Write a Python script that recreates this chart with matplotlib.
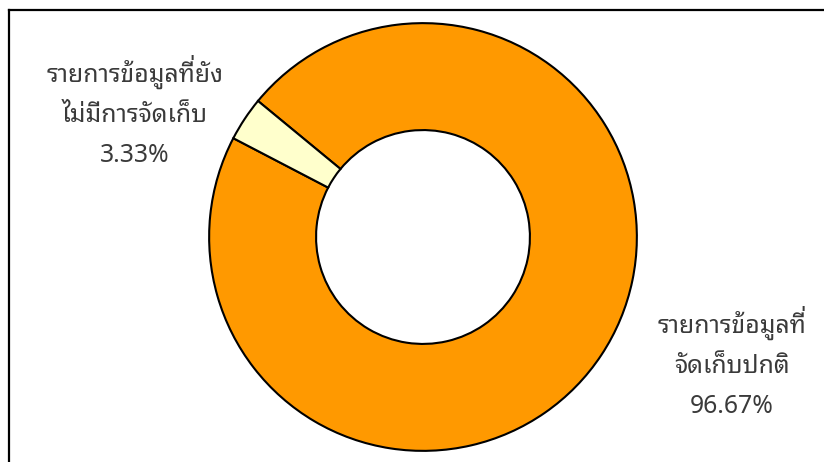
import matplotlib
matplotlib.use("Agg")
import matplotlib.pyplot as plt
from matplotlib.lines import Line2D

THAI = ['Noto Sans Thai Looped', 'Sarabun', 'DejaVu Sans']
NUM = ['Noto Sans', 'DejaVu Sans']
plt.rcParams['font.family'] = THAI

# ข้อมูล
labels = ["รายการข้อมูลที่\nจัดเก็บปกติ", "รายการข้อมูลที่ยัง\nไม่มีการจัดเก็บ"]
values = [96.67, 3.33]
colors = ["#FF9900", "#FFFFCC"]

W, H = 824, 462
FS = 17.8
TXT = "#3a3a3a"
WEIGHT = "light"
fig = plt.figure(figsize=(W / 100, H / 100), dpi=100)
renderer = fig.canvas.get_renderer()

# กรอบด้านบนและด้านซ้าย
fig.add_artist(Line2D([8.5 / W, 8.5 / W], [0, 1 - 10 / H], color="black", lw=1.6))
fig.add_artist(Line2D([8.5 / W, 1], [1 - 10 / H, 1 - 10 / H], color="black", lw=1.6))

# โดนัท
cx, cy, r = 423, 237, 216
ax = fig.add_axes([(cx - r) / W, (H - cy - r) / H, 2 * r / W, 2 * r / H])
ax.pie(values, colors=colors, startangle=140.5, counterclock=False, radius=1,
       wedgeprops=dict(width=0.5, edgecolor="black", linewidth=1.5))
ax.set_xlim(-1.01, 1.01)
ax.set_ylim(-1.01, 1.01)
ax.set_aspect("equal")
ax.axis("off")

# matplotlib ไม่จัดวรรณยุกต์ซ้อนสระบน จึงวาดวรรณยุกต์แยกแล้วยกขึ้นเอง
UPPER = "ิีึืั็"
TONES = "่้๊๋์"


def thai_line(x, y, s, family):
    clean, marks = "", []
    for i, ch in enumerate(s):
        if ch in TONES and i > 0 and s[i - 1] in UPPER:
            marks.append((clean, ch))
        else:
            clean += ch
    t = fig.text(x / W, 1 - y / H, clean, ha="center", va="baseline",
                 fontsize=FS, color=TXT, family=family, fontweight=WEIGHT)
    if not marks:
        return
    bb = t.get_window_extent(renderer)
    for prefix, m in marks:
        tmp = fig.text(0, 0, prefix, fontsize=FS, family=family,
                       fontweight=WEIGHT)
        pw = tmp.get_window_extent(renderer).width
        tmp.remove()
        fig.text((bb.x0 + pw) / W, 1 - (y - FS * 0.36) / H, m, ha="right",
                 va="baseline", fontsize=FS, color=TXT, family=family,
                 fontweight=WEIGHT)


# ป้ายข้อความ (ตำแหน่ง baseline ของบรรทัดแรก)
pos = [(732, 333), (135, 82)]
for (lx, ly), lab, v in zip(pos, labels, values):
    rows = lab.split("\n")
    for i, s in enumerate(rows):
        thai_line(lx, ly + i * 40, s, THAI)
    thai_line(lx, ly + len(rows) * 40, "{:.2f}%".format(v), NUM)

fig.savefig("out.png", dpi=100)
